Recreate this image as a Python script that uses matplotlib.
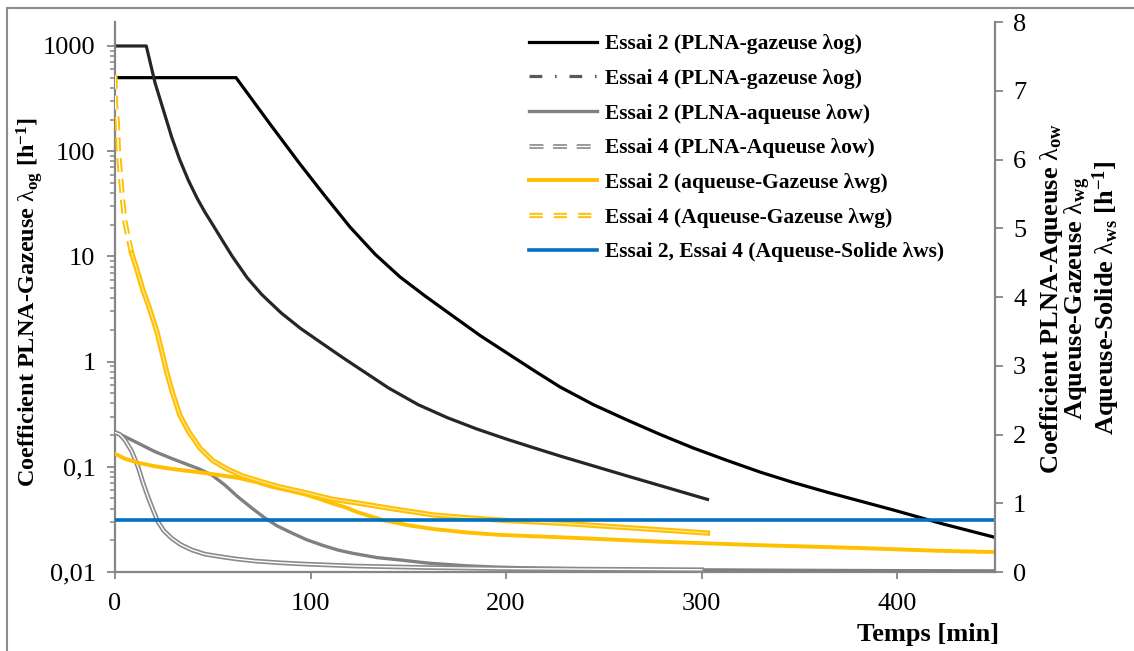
import numpy as np
import matplotlib.pyplot as plt
import matplotlib.patheffects as pe
from matplotlib.lines import Line2D
from matplotlib.patches import Rectangle
from matplotlib.ticker import LogLocator, NullFormatter

plt.rcParams['font.family'] = 'Liberation Serif'
plt.rcParams['mathtext.fontset'] = 'custom'
plt.rcParams['mathtext.rm'] = 'Liberation Serif'
plt.rcParams['mathtext.it'] = 'Liberation Serif:italic'
plt.rcParams['mathtext.bf'] = 'Liberation Serif:bold'

# left axis (log) : PLNA-gazeuse
t_og2 = [0, 61.9, 79.3, 94.6, 107.4, 120.2, 133, 145.8, 158.6, 171.4, 186.7, 202, 215, 227.6,
         244.5, 261.8, 278.8, 295.7, 313, 330, 346.8, 364, 381, 398, 423.5, 449]
v_og2 = [500, 500, 181, 75.5, 37.5, 19, 10.5, 6.37, 4.2, 2.83, 1.77, 1.156, 0.806, 0.574,
         0.391, 0.279, 0.203, 0.151, 0.115, 0.089, 0.071, 0.0575, 0.0473, 0.0389, 0.0286, 0.0216]
t_og4 = [0, 16, 20.5, 29, 33, 37.5, 42, 46, 50, 55, 60, 67.5, 75, 85, 95, 106, 117, 140, 155,
         170, 185, 200, 214, 228, 262, 303]
v_og4 = [1000, 1000, 445, 136, 84, 53, 35.7, 26.3, 20, 14.1, 10, 6.3, 4.35, 2.9, 2.06, 1.486,
         1.075, 0.56, 0.39, 0.293, 0.229, 0.184, 0.152, 0.126, 0.0818, 0.049]

# right axis (linear) : PLNA-aqueuse, aqueuse-gazeuse, aqueuse-solide
t_ow2 = [0, 10, 20.5, 30, 37.4, 43, 49.6, 56, 63, 70, 76.7, 83, 90.5, 98, 106, 114, 122, 134,
         146, 160, 180, 195, 214, 230, 248, 300, 350, 400, 450]
v_ow2 = [2.04, 1.90, 1.75, 1.64, 1.56, 1.50, 1.41, 1.27, 1.09, 0.93, 0.785, 0.67, 0.567, 0.47,
         0.39, 0.32, 0.27, 0.21, 0.175, 0.13, 0.09, 0.072, 0.058, 0.05, 0.044, 0.032, 0.025, 0.02, 0.017]
t_ow4 = [0, 2.5, 5.1, 8.5, 11.8, 14.3, 16.9, 19.5, 22, 25, 29, 33.5, 39.4, 46, 54.7, 62, 71.6,
         84, 97, 123, 160, 200, 250, 300]
v_ow4 = [2.03, 2.0, 1.92, 1.76, 1.53, 1.30, 1.09, 0.90, 0.73, 0.60, 0.49, 0.40, 0.32, 0.26, 0.22,
         0.19, 0.16, 0.135, 0.116, 0.087, 0.065, 0.05, 0.04, 0.033]
t_wg2 = [0, 5, 11.8, 20, 29, 46, 63, 72, 80, 88, 97, 104, 111, 118, 124, 137, 150, 163, 180,
         197, 228, 260, 280, 300, 330, 355, 380, 400, 420, 450]
v_wg2 = [1.72, 1.65, 1.59, 1.54, 1.50, 1.44, 1.37, 1.31, 1.24, 1.19, 1.13, 1.07, 1.0, 0.94, 0.87,
         0.756, 0.68, 0.625, 0.575, 0.54, 0.505, 0.465, 0.44, 0.42, 0.39, 0.37, 0.35, 0.33, 0.31, 0.29]
t_wg4 = [0, 0.26, 1.2, 1.7, 2.9, 3.9, 5.1, 8.5, 11, 14.3, 17.5, 21.5, 24, 26.6, 29.5, 33.2, 37.5,
         43.5, 50, 57.3, 65, 74.2, 84, 95, 111, 125, 142, 163, 180, 197, 228, 265, 303]
v_wg4 = [7.23, 6.78, 6.55, 6.14, 5.73, 5.41, 5.09, 4.64, 4.42, 4.10, 3.85, 3.49, 3.2, 2.89, 2.6,
         2.28, 2.05, 1.80, 1.62, 1.50, 1.40, 1.32, 1.24, 1.17, 1.06, 1.0, 0.92, 0.83, 0.79, 0.755,
         0.71, 0.64, 0.567]
t_ws = [0, 450]
v_ws = [0.76, 0.76]

labels = ['Essai 2 (PLNA-gazeuse λog)', 'Essai 4 (PLNA-gazeuse λog)',
          'Essai 2 (PLNA-aqueuse λow)', 'Essai 4 (PLNA-Aqueuse λow)',
          'Essai 2 (aqueuse-Gazeuse λwg)', 'Essai 4 (Aqueuse-Gazeuse λwg)',
          'Essai 2, Essai 4 (Aqueuse-Solide λws)']

axcol = '#868686'
yellow = '#FFC000'

fig = plt.figure(figsize=(11.34, 6.51), dpi=100)
ax = fig.add_axes([0.1014, 0.1213, 0.7760, 0.8449])
ax2 = ax.twinx()

l1, = ax.plot(t_og2, v_og2, color='black', lw=2.3)
ax.plot(t_og4, v_og4, color='#262626', lw=2.3)

l3, = ax2.plot(t_ow2, v_ow2, color='#808080', lw=2.4)
dbl_gray = [pe.Stroke(linewidth=3.4, foreground='#8a8a8a'), pe.Normal()]
ax2.plot(t_ow4, v_ow4, color='white', lw=1.0, path_effects=dbl_gray)
l5, = ax2.plot(t_wg2, v_wg2, color=yellow, lw=2.8)
dbl_yel = [pe.Stroke(linewidth=3.8, foreground=yellow), pe.Normal()]
n = 8
ax2.plot(t_wg4[:n], v_wg4[:n], color='white', lw=1.0, dashes=(10, 5), path_effects=dbl_yel)
ax2.plot(t_wg4[n - 1:], v_wg4[n - 1:], color='#ffe699', lw=0.9, path_effects=dbl_yel)
l7, = ax2.plot(t_ws, v_ws, color='#0070C0', lw=2.6)

# legend handles for the dashed styles
h2 = Line2D([], [], color='#595959', lw=2.3, dashes=(4, 4, 0.5, 4))
h4 = Line2D([], [], color='white', lw=1.0, dashes=(10, 7), path_effects=dbl_gray)
h6 = Line2D([], [], color='white', lw=1.0, dashes=(9.5, 8), path_effects=dbl_yel)

ax.set_xlim(0, 450)
ax.set_yscale('log')
ax.set_ylim(0.01, 1690)
ax.set_yticks([0.01, 0.1, 1, 10, 100, 1000], ['0,01', '0,1', '1', '10', '100', '1000'])
ax.yaxis.set_minor_locator(LogLocator(base=10, subs=np.arange(2, 10)))
ax.yaxis.set_minor_formatter(NullFormatter())
ax.set_xticks([0, 100, 200, 300, 400])
ax2.set_ylim(0, 8)
ax2.set_yticks(range(9))

for sp in ['top', 'right']:
    ax.spines[sp].set_visible(False)
for sp in ['top', 'left', 'bottom']:
    ax2.spines[sp].set_visible(False)
for sp in [ax.spines['left'], ax.spines['bottom'], ax2.spines['right']]:
    sp.set_color(axcol)
    sp.set_linewidth(1.6)

ax.tick_params(axis='y', which='major', direction='out', length=6, width=1.3, color=axcol, labelsize=19, pad=8)
ax.tick_params(axis='y', which='minor', direction='out', length=3.5, width=1.1, color=axcol)
ax.tick_params(axis='x', direction='out', length=5, width=1.3, color=axcol, labelsize=19, pad=10)
ax2.tick_params(axis='y', direction='out', length=6, width=1.3, color=axcol, labelsize=19, pad=7)

ax2.legend([l1, h2, l3, h4, l5, h6, l7], labels, loc='upper left', bbox_to_anchor=(0.471, 0.978),
           frameon=False, borderpad=0, borderaxespad=0, labelspacing=0.68, handlelength=3.15,
           handletextpad=0.36, prop={'family': 'Liberation Serif', 'weight': 'bold', 'size': 15.5})

fig.text(30 / 1134, 1 - 302 / 651,
         r'Coefficient PLNA-Gazeuse $\mathrm{\lambda}_{\mathbf{og}}$ [h$^{\mathbf{-1}}$]',
         rotation=90, ha='center', va='center', fontsize=17.5, fontweight='bold')
fig.text(1080 / 1134, 1 - 298 / 651,
         'Coefficient PLNA-Aqueuse $\\mathrm{\\lambda}_{\\mathbf{ow}}$\n'
         'Aqueuse-Gazeuse $\\mathrm{\\lambda}_{\\mathbf{wg}}$\n'
         'Aqueuse-Solide $\\mathrm{\\lambda}_{\\mathbf{ws}}$ [h$^{\\mathbf{-1}}$]',
         rotation=90, ha='center', va='center', multialignment='center',
         fontsize=19, fontweight='bold', linespacing=0.9)
fig.text(928 / 1134, 1 - 634 / 651, 'Temps [min]', ha='center', va='center',
         fontsize=19, fontweight='bold')

fig.add_artist(Rectangle((0.006, -0.1), 1.2, 1.0877, transform=fig.transFigure,
                         fill=False, edgecolor='#8c8c8c', lw=1.5, clip_on=False))

fig.savefig('out.png', dpi=100)
